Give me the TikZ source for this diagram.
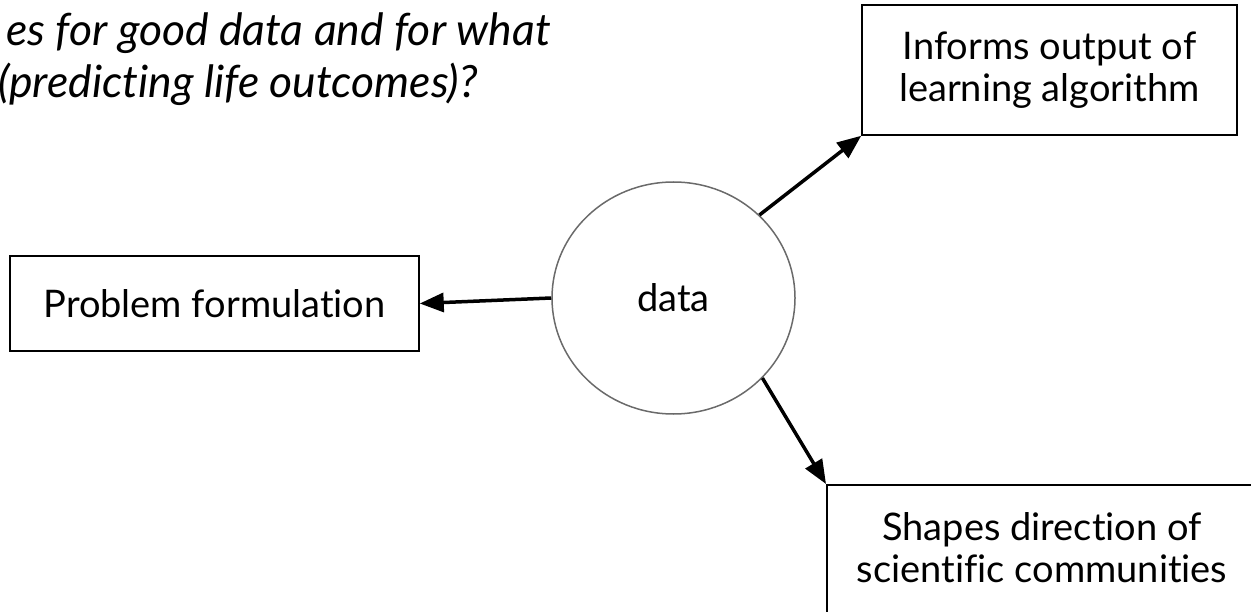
\documentclass[tikz,border=0pt]{standalone}
\usepackage{fontspec}
\setmainfont{Lato}[Ligatures=NoCommon]
\usetikzlibrary{arrows.meta,shapes.geometric}
\definecolor{ringgray}{HTML}{6A6A6A}
\begin{document}
\begin{tikzpicture}[x=1pt,y=-1pt,
  every node/.style={font=\fontsize{38}{42}\selectfont},
  box/.style={draw=black,line width=1.5pt,rectangle,inner sep=0pt,align=center},
  hub/.style={draw=ringgray,line width=1.5pt,ellipse,inner sep=0pt,
    minimum width=243pt,minimum height=232pt},
  link/.style={line width=3.5pt,-{Triangle[length=24pt,width=19pt]}},
  question/.style={font=\itshape\fontsize{44.5}{52}\selectfont,anchor=base east,inner sep=0pt}]
\useasboundingbox (0,0) rectangle (1251,612);
\clip (0,0) rectangle (1251,612);

% question text, running off the left edge
\node[question] (q1) at (551,46) {es for good data and for what};
\node[question] (q2) at (478,97.6) {(predicting life outcomes)?};

% central data node
\node[hub] (data) at (673.5,298) {data};

% outcome boxes
\node[box,minimum width=409pt,minimum height=95pt] (prob) at (214.5,303.5) {Problem formulation};
\node[box,minimum width=375pt,minimum height=130pt] (inf) at (1049.5,70) {Informs output of\\learning algorithm};
\node[box,minimum width=432pt,minimum height=150pt,anchor=north west] (shp) at (826,484) {};
\node[align=center,anchor=base,inner sep=0pt] (shptext) at (1042,582) {Shapes direction of\\scientific communities};

% connectors
\draw[link] (data.west) -- (prob.east);
\draw[link] (data.44) -- (inf.south west);
\draw[link] (data.-42) -- (shp.north west);
\end{tikzpicture}
\end{document}
